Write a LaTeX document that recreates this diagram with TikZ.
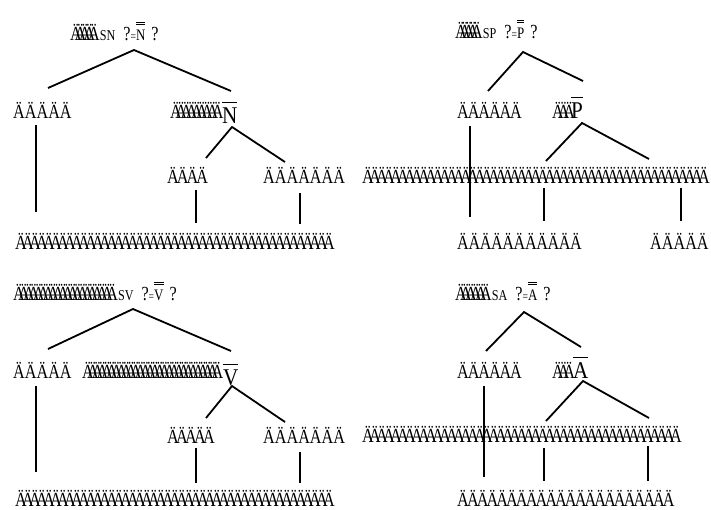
\documentclass[tikz,border=0pt]{standalone}
\usepackage{fontspec}
\setmainfont{Liberation Serif}
\usetikzlibrary{positioning}

% a row of letters set closer than their width
\newcommand{\Arow}[2]{\foreach \k in {2,...,#1}{\makebox[#2][l]{Ä}}Ä}
\newcommand{\Bar}[1]{$\overline{\mbox{\strut #1}}$}
\newcommand{\DBar}[1]{$\overline{\overline{\mbox{\strut #1}}}$}
% #1 count, #2 advance, #3 small label, #4 barred letter
\newcommand{\Head}[4]{\Arow{#1}{#2}{\fontsize{15}{15}\selectfont #3}\hspace{8pt}{\fontsize{20}{20}\selectfont ?}{\fontsize{12}{12}\selectfont =}{\fontsize{16}{20}\selectfont\DBar{#4}}\hspace{6pt}{\fontsize{20}{20}\selectfont ?}}

\tikzset{
  word/.style={inner sep=0pt, anchor=base west,
    font=\fontsize{20}{23}\selectfont\addfontfeature{FakeStretch=0.81}},
  bigword/.style={inner sep=0pt, anchor=base west,
    font=\fontsize{24}{28}\selectfont\addfontfeature{FakeStretch=0.88}},
  branch/.style={line width=1.8pt}
}

\begin{document}
\begin{tikzpicture}[x=1pt,y=-1pt]
	\useasboundingbox (0,0) rectangle (711,509);

	%% top left tree
	\node[word] (sn) at (70,40) {\Head{5}{4.5pt}{SN}{N}};
	\node[word] (sn-w1) at (13,118) {ÄÄÄÄÄ};
	\node[word] (sn-w2) at (170,118) {\Arow{9}{5.2pt}};
	\node[bigword] (sn-bar) at (222,123) {\Bar{N}};
	\node[word] (sn-w3) at (167,183) {\Arow{4}{9.7pt}};
	\node[word] (sn-w4) at (263,183) {ÄÄÄÄÄÄÄ};
	\node[word] (sn-w5) at (15,249) {\Arow{45}{7pt}};

	\coordinate (sn-top) at (134,50);
	\coordinate (sn-a) at (48,88);
	\coordinate (sn-b) at (231,91);
	\coordinate (sn-c) at (36,125);
	\coordinate (sn-d) at (36,212);
	\coordinate (sn-e) at (232,127);
	\coordinate (sn-f) at (206,158);
	\coordinate (sn-g) at (285,162);
	\coordinate (sn-h) at (196,190);
	\coordinate (sn-i) at (196,223);
	\coordinate (sn-j) at (300,193);
	\coordinate (sn-k) at (300,224);

	\draw[branch] (sn-a) -- (sn-top) -- (sn-b);
	\draw[branch] (sn-c) -- (sn-d);
	\draw[branch] (sn-f) -- (sn-e) -- (sn-g);
	\draw[branch] (sn-h) -- (sn-i);
	\draw[branch] (sn-j) -- (sn-k);

	%% top right tree
	\node[word] (sp) at (455,38) {\Head{5}{4pt}{SP}{P}};
	\node[word] (sp-w1) at (457,118) {\Arow{6}{10.6pt}};
	\node[word] (sp-w2) at (552,118) {\Arow{3}{5.6pt}};
	\node[bigword] (sp-bar) at (571,118) {\Bar{P}};
	\node[word] (sp-w3) at (362,183) {\Arow{49}{7pt}};
	\node[word] (sp-w4) at (457,249) {\Arow{11}{11.3pt}};
	\node[word] (sp-w5) at (650,249) {ÄÄÄÄÄ};

	\coordinate (sp-top) at (523,52);
	\coordinate (sp-a) at (488,91);
	\coordinate (sp-b) at (583,81);
	\coordinate (sp-c) at (470,126);
	\coordinate (sp-d) at (470,217);
	\coordinate (sp-e) at (582,123);
	\coordinate (sp-f) at (546,161);
	\coordinate (sp-g) at (649,159);
	\coordinate (sp-h) at (544,188);
	\coordinate (sp-i) at (544,221);
	\coordinate (sp-j) at (681,188);
	\coordinate (sp-k) at (681,221);

	\draw[branch] (sp-a) -- (sp-top) -- (sp-b);
	\draw[branch] (sp-c) -- (sp-d);
	\draw[branch] (sp-f) -- (sp-e) -- (sp-g);
	\draw[branch] (sp-h) -- (sp-i);
	\draw[branch] (sp-j) -- (sp-k);

	%% bottom left tree
	\node[word] (sv) at (13,300) {\Head{20}{4.9pt}{SV}{V}};
	\node[word] (sv-w1) at (13,378) {ÄÄÄÄÄ};
	\node[word] (sv-w2) at (82,378) {\Arow{28}{4.8pt}};
	\node[bigword] (sv-bar) at (223,385) {\Bar{V}};
	\node[word] (sv-w3) at (167,443) {\Arow{5}{9pt}};
	\node[word] (sv-w4) at (263,443) {ÄÄÄÄÄÄÄ};
	\node[word] (sv-w5) at (15,506) {\Arow{45}{7pt}};

	\coordinate (sv-top) at (133,309);
	\coordinate (sv-a) at (48,349);
	\coordinate (sv-b) at (231,351);
	\coordinate (sv-c) at (36,386);
	\coordinate (sv-d) at (36,472);
	\coordinate (sv-e) at (232,386);
	\coordinate (sv-f) at (206,418);
	\coordinate (sv-g) at (285,422);
	\coordinate (sv-h) at (196,448);
	\coordinate (sv-i) at (196,483);
	\coordinate (sv-j) at (300,452);
	\coordinate (sv-k) at (300,483);

	\draw[branch] (sv-a) -- (sv-top) -- (sv-b);
	\draw[branch] (sv-c) -- (sv-d);
	\draw[branch] (sv-f) -- (sv-e) -- (sv-g);
	\draw[branch] (sv-h) -- (sv-i);
	\draw[branch] (sv-j) -- (sv-k);

	%% bottom right tree
	\node[word] (sa) at (455,300) {\Head{6}{5pt}{SA}{A}};
	\node[word] (sa-w1) at (457,378) {\Arow{6}{10.6pt}};
	\node[word] (sa-w2) at (552,378) {\Arow{3}{5.6pt}};
	\node[bigword] (sa-bar) at (573,378) {\Bar{A}};
	\node[word] (sa-w3) at (362,442) {\Arow{45}{7pt}};
	\node[word] (sa-w4) at (457,506) {\Arow{22}{9.8pt}};

	\coordinate (sa-top) at (524,312);
	\coordinate (sa-a) at (486,351);
	\coordinate (sa-b) at (581,347);
	\coordinate (sa-c) at (484,386);
	\coordinate (sa-d) at (484,477);
	\coordinate (sa-e) at (583,381);
	\coordinate (sa-f) at (546,421);
	\coordinate (sa-g) at (649,418);
	\coordinate (sa-h) at (544,448);
	\coordinate (sa-i) at (544,481);
	\coordinate (sa-j) at (648,446);
	\coordinate (sa-k) at (648,481);

	\draw[branch] (sa-a) -- (sa-top) -- (sa-b);
	\draw[branch] (sa-c) -- (sa-d);
	\draw[branch] (sa-f) -- (sa-e) -- (sa-g);
	\draw[branch] (sa-h) -- (sa-i);
	\draw[branch] (sa-j) -- (sa-k);
\end{tikzpicture}
\end{document}
